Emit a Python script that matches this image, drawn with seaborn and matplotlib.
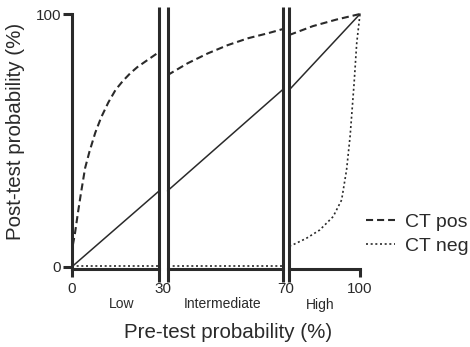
import numpy as np
import pandas as pd
import matplotlib
matplotlib.use("Agg")
import matplotlib.pyplot as plt
import seaborn as sns
from matplotlib.lines import Line2D
from matplotlib.transforms import ScaledTranslation

# ---------------- data ----------------
segments = ["Low", "Intermediate", "High"]
seg_limits = [(0, 30), (30, 70), (70, 100)]
x_tick_labels = ["0", "30", "70", "100"]
y_tick_values = [0, 100]

diag_x = [0, 30, 70, 100]
diag_y = [0, 30, 70, 100]

pos_low_x = [0.3, 1, 2, 3, 4.5, 6, 8, 10, 12.5, 15, 17.5, 20, 22.5, 25, 27.5, 30]
pos_low_y = [8.6, 13, 21, 28.5, 39, 45.5, 53, 59, 65, 70, 73.5, 76.5, 79, 81, 83, 85]
pos_mid_x = [30, 37, 44, 51, 58, 65, 70]
pos_mid_y = [75.8, 80.5, 84.4, 87.7, 90.4, 92.4, 94.0]
pos_high_x = [70, 80, 90, 100]
pos_high_y = [91.7, 95.2, 97.8, 100]

neg_low_x = [0, 30]
neg_low_y = [0.3, 0.3]
neg_mid_x = [30, 70]
neg_mid_y = [0.3, 0.3]
neg_high_x = [70, 71.4, 77.2, 82.9, 88.6, 92.2, 94.3, 95.8, 97.5, 98.6, 100]
neg_high_y = [8.2, 8.6, 11.2, 14.5, 19.8, 26.4, 38.3, 51.6, 72.6, 88.4, 100]

# ---------------- build tidy table ----------------
rows = []
def add(series, seg, xs, ys):
    for x, y in zip(xs, ys):
        rows.append({"pre": x, "post": y, "series": series, "segment": seg})

for seg, (lo, hi) in zip(segments, seg_limits):
    xs = [x for x in diag_x if lo <= x <= hi]
    ys = [y for x, y in zip(diag_x, diag_y) if lo <= x <= hi]
    add("Diagonal", seg, xs, ys)
add("CT pos", "Low", pos_low_x, pos_low_y)
add("CT pos", "Intermediate", pos_mid_x, pos_mid_y)
add("CT pos", "High", pos_high_x, pos_high_y)
add("CT neg", "Low", neg_low_x, neg_low_y)
add("CT neg", "Intermediate", neg_mid_x, neg_mid_y)
add("CT neg", "High", neg_high_x, neg_high_y)
df = pd.DataFrame(rows)

# ---------------- style ----------------
sns.set_theme(style="white")
plt.rcParams["font.family"] = ["Liberation Sans", "DejaVu Sans"]
ink = "#2a2a2a"
spine_lw = 2.2

dashes = {"Diagonal": "", "CT pos": (3.4, 1.9), "CT neg": (1.2, 1.6)}
sizes = {"Diagonal": 1.1, "CT pos": 1.5, "CT neg": 1.2}

W, H = 470, 347
fig = plt.figure(figsize=(W / 100, H / 100), dpi=100)
fig.patch.set_facecolor("white")

def rect(x0, x1, ytop, ybot):
    return [x0 / W, 1 - ybot / H, (x1 - x0) / W, (ybot - ytop) / H]

ytop, ybot = 14, 269.2
axes = [
    fig.add_axes(rect(72, 159.2, ytop, ybot)),
    fig.add_axes(rect(167.5, 282.5, ytop, ybot)),
    fig.add_axes(rect(289.3, 360, ytop, ybot)),
]

for i, (ax, seg, (lo, hi)) in enumerate(zip(axes, segments, seg_limits)):
    d = df[df["segment"] == seg]
    sns.lineplot(data=d, x="pre", y="post", style="series", size="series",
                 style_order=["Diagonal", "CT pos", "CT neg"],
                 dashes=dashes, sizes=sizes, color=ink,
                 estimator=None, sort=False, legend=False, ax=ax)
    for ln in ax.lines:
        ln.set_clip_on(False)
    ax.set_xlim(lo, hi)
    ax.set_ylim(-1, 100)
    ax.set_facecolor("none")
    ax.set_xlabel("")
    ax.set_ylabel("")
    for s in ["top", "right", "left"]:
        ax.spines[s].set_visible(False)
    ax.spines["bottom"].set_linewidth(spine_lw)
    ax.spines["bottom"].set_color(ink)
    ax.tick_params(axis="x", length=5.5, width=spine_lw, pad=4, colors=ink,
                   labelsize=11, direction="out", bottom=True)
    ax.set_yticks([])

# y axis on first segment
ax1, ax2, ax3 = axes
ax1.spines["left"].set_visible(True)
ax1.spines["left"].set_linewidth(spine_lw)
ax1.spines["left"].set_color(ink)
ax1.set_yticks(y_tick_values, [str(v) for v in y_tick_values])
ax1.tick_params(axis="y", length=6.5, width=spine_lw, pad=1.5, colors=ink,
                labelsize=11, direction="out", left=True)

ax1.set_xticks([seg_limits[0][0]], [x_tick_labels[0]])
ax2.set_xticks([])
ax3.set_xticks([seg_limits[2][1]], [x_tick_labels[3]])

# break double lines
ylo = (ybot - 282) / (ybot - ytop)
yhi = (ybot - 7) / (ybot - ytop)
for ax, xb in [(ax1, 30), (ax2, 30), (ax2, 70), (ax3, 70)]:
    ax.axvline(xb, ymin=ylo, ymax=yhi, clip_on=False, color=ink,
               lw=spine_lw, solid_capstyle="butt", zorder=5)

# break tick labels (centered between double lines)
for ax, xb, lab, dx in [(ax1, 30, x_tick_labels[1], 4.0), (ax2, 70, x_tick_labels[2], 3.5)]:
    trans, va, ha = ax.get_xaxis_text1_transform(5.5 + 4)
    ax.text(xb, 0, lab, transform=trans + ScaledTranslation(dx / 100, 0, fig.dpi_scale_trans),
            va=va, ha=ha, fontsize=11, color=ink)

# category labels
cat_x = [17, 49, 83.3]
for ax, name, cx in zip(axes, segments, cat_x):
    ax.text(cx, (ybot - 308.5) / (ybot - ytop), name, transform=ax.get_xaxis_transform(),
            ha="center", va="baseline", fontsize=10, color=ink)

# axis titles
fig.text(228 / W, 1 - 338.3 / H, "Pre-test probability (%)", ha="center", va="baseline",
         fontsize=14.8, color=ink)
fig.text(16 / W, 1 - 131 / H, "Post-test probability (%)", ha="center", va="center",
         rotation=90, fontsize=14.8, color=ink)

# legend
handles = [
    Line2D([], [], color=ink, lw=sizes["CT pos"], dashes=dashes["CT pos"]),
    Line2D([], [], color=ink, lw=sizes["CT neg"], dashes=dashes["CT neg"]),
]
ax3.legend(handles, ["CT pos", "CT neg"], loc="center left",
           bbox_to_anchor=(366 / W, 1 - 234 / H), bbox_transform=fig.transFigure,
           frameon=False, borderpad=0, borderaxespad=0, handlelength=1.5,
           handletextpad=0.5, labelspacing=0.3, fontsize=14, labelcolor=ink)

fig.savefig("out.png", dpi=100, facecolor="white")
